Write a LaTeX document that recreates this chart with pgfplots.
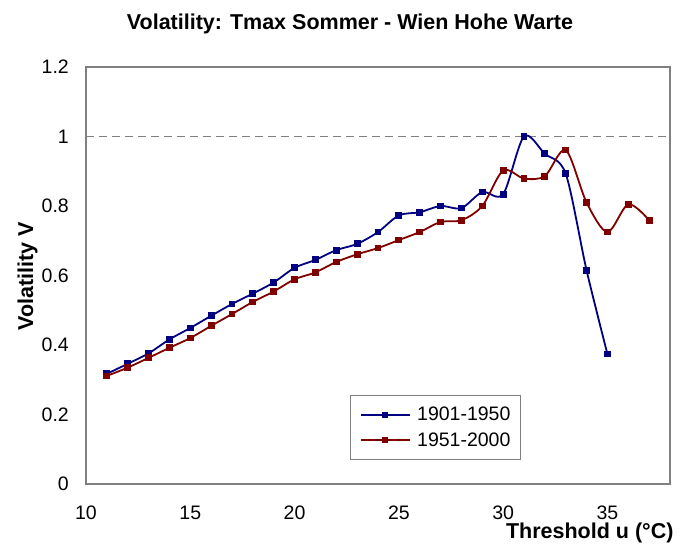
\documentclass[border=0pt]{standalone}
\usepackage{fontspec}
\setmainfont{Liberation Sans}
\usepackage{pgfplots}
\pgfplotsset{compat=1.18}
\definecolor{sblue}{RGB}{0,0,128}
\definecolor{sred}{RGB}{128,0,0}
\definecolor{framegray}{RGB}{128,128,128}
\newcommand\tickfont{\fontsize{19.5}{23}\selectfont}
\newcommand\labfont{\fontsize{21.5}{25}\selectfont\bfseries}

\pgfplotstableread{
x y
11 0.317
12 0.346
13 0.376
14 0.416
15 0.449
16 0.484
17 0.518
18 0.548
19 0.580
20 0.622
21 0.645
22 0.673
23 0.691
24 0.725
25 0.773
26 0.782
27 0.800
28 0.794
29 0.840
30 0.834
31 1.000
32 0.950
33 0.893
34 0.615
35 0.374
}\tblA

\pgfplotstableread{
x y
11 0.311
12 0.335
13 0.363
14 0.392
15 0.420
16 0.455
17 0.489
18 0.524
19 0.554
20 0.589
21 0.609
22 0.639
23 0.661
24 0.679
25 0.702
26 0.725
27 0.754
28 0.759
29 0.800
30 0.902
31 0.879
32 0.886
33 0.961
34 0.810
35 0.725
36 0.805
37 0.759
}\tblB

\begin{document}
\begin{tikzpicture}[x=1pt,y=1pt]
\path[use as bounding box] (0,0) rectangle (681,549);
\begin{axis}[
  at={(86pt,65pt)}, anchor=south west,
  scale only axis, width=584pt, height=417pt,
  xmin=10, xmax=38, ymin=0, ymax=1.2,
  xtick={10,15,20,25,30,35},
  ytick={0,0.2,0.4,0.6,0.8,1,1.2},
  major tick length=0pt,
  axis line style={framegray, line width=1.5pt},
  /pgf/number format/assume math mode=true,
  xticklabel style={anchor=north, inner sep=0pt, yshift=-22pt, font=\tickfont},
  yticklabel style={anchor=east, inner sep=0pt, xshift=-17pt, font=\tickfont},
  legend cell align=left,
  legend style={at={(rel axis cs:0.452,0.0576)}, anchor=south west,
    draw=framegray, line width=0.8pt, font=\tickfont,
    inner xsep=10pt, inner ysep=12pt, row sep=10pt, column sep=7pt,
    nodes={inner sep=0pt}},
  legend image code/.code={
    \draw[mark repeat=2,mark phase=2,mark size=2pt,#1] plot coordinates {(0pt,0pt) (24pt,0pt) (48pt,0pt)};
  },
]
\addplot[forget plot, framegray, line width=1pt, dash pattern=on 8pt off 5pt] coordinates {(10,1) (38,1)};
\addplot[sblue, line width=1.8pt, smooth, mark=square*, mark size=2.5pt, mark options={solid}] table[x=x,y=y]{\tblA};
\addlegendentry{1901-1950}
\addplot[sred, line width=1.8pt, smooth, mark=square*, mark size=2.5pt, mark options={solid}] table[x=x,y=y]{\tblB};
\addlegendentry{1951-2000}
\end{axis}
\node[anchor=base, font=\labfont] at (350,519) {Volatility: Tmax Sommer - Wien Hohe Warte};
\node[anchor=base, rotate=90, font=\labfont] at (33,273) {Volatility V};
\node[anchor=base east, font=\labfont] at (677,10) {Threshold u (°C)};
\end{tikzpicture}
\end{document}
